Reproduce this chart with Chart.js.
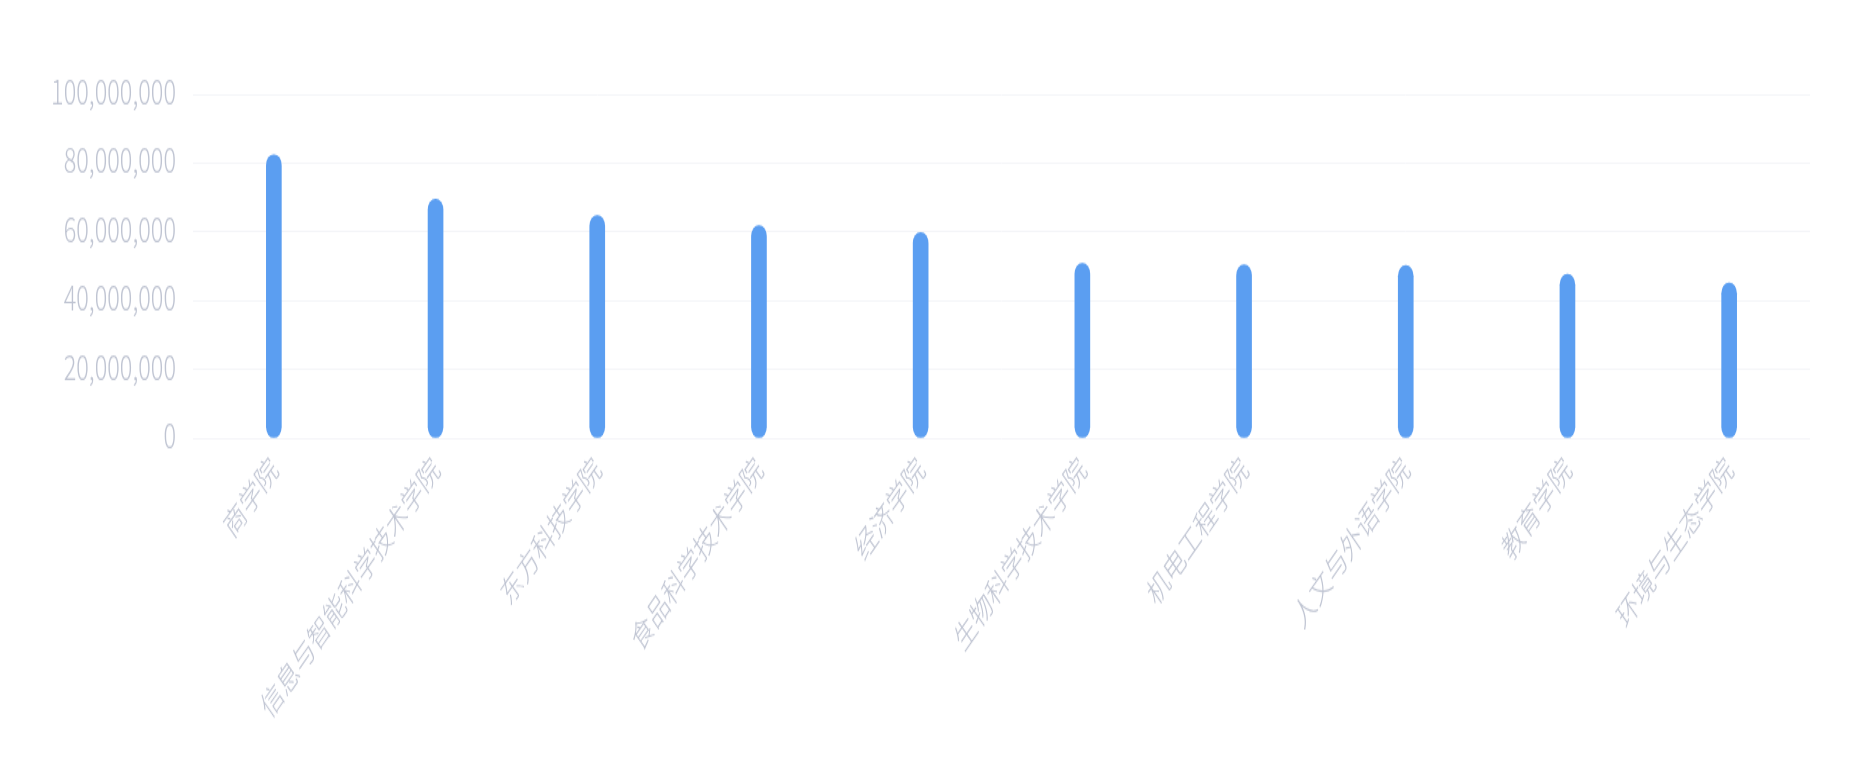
<!DOCTYPE html>
<html>
<head>
<meta charset="utf-8">
<script src="https://cdn.jsdelivr.net/npm/chart.js@4/dist/chart.umd.min.js"></script>
<style>
  html { margin: 0; padding: 0; overflow: hidden; background: #ffffff; }
  body { margin: 0; padding: 0; width: 1867px; height: 779px; background: #ffffff; }
  #wrap { width: 1867px; height: 537px; transform: scaleY(1.4506); transform-origin: 0 0; }
</style>
</head>
<body>
<div id="wrap"><canvas id="c" width="1867" height="537"></canvas></div>
<script>
const categories = ['商学院', '信息与智能科学技术学院', '东方科技学院', '食品科学技术学院', '经济学院', '生物科学技术学院', '机电工程学院', '人文与外语学院', '教育学院', '环境与生态学院'];
const amounts = [82400000, 69500000, 64700000, 61800000, 59800000, 50800000, 50400000, 50200000, 47600000, 45100000];
const yTickValues = [0, 20000000, 40000000, 60000000, 80000000, 100000000];

const fontFamily = '"Noto Sans CJK SC", "Noto Sans", sans-serif';
const textColor = '#bfc4d2';
const gridColor = '#f4f5f8';

new Chart(document.getElementById('c'), {
  type: 'bar',
  data: {
    labels: categories,
    datasets: [{
      data: amounts,
      backgroundColor: '#5b9ef1',
      borderWidth: 0,
      borderRadius: 8,
      borderSkipped: false,
      barThickness: 15
    }]
  },
  options: {
    responsive: false,
    animation: false,
    layout: { padding: { top: 65, right: 57, left: 0, bottom: 0 } },
    plugins: { legend: { display: false }, tooltip: { enabled: false } },
    scales: {
      x: {
        grid: { display: false, drawTicks: false },
        border: { display: false },
        ticks: {
          color: textColor,
          font: { family: fontFamily, size: 22, weight: 300 },
          minRotation: 45,
          maxRotation: 45,
          autoSkip: false,
          padding: 8
        },
        afterFit: (s) => { s.height = 235; }
      },
      y: {
        min: 0,
        max: 100000000,
        afterBuildTicks: (s) => { s.ticks = yTickValues.map(v => ({ value: v })); },
        grid: { color: gridColor, lineWidth: 1, drawTicks: false },
        border: { display: false },
        ticks: {
          color: textColor,
          font: { family: fontFamily, size: 23.5, weight: 300 },
          padding: 17,
          labelOffset: -2,
          callback: (v) => Number(v).toLocaleString('en-US')
        },
        afterFit: (s) => { s.width = 193; }
      }
    }
  }
});
</script>
</body>
</html>
